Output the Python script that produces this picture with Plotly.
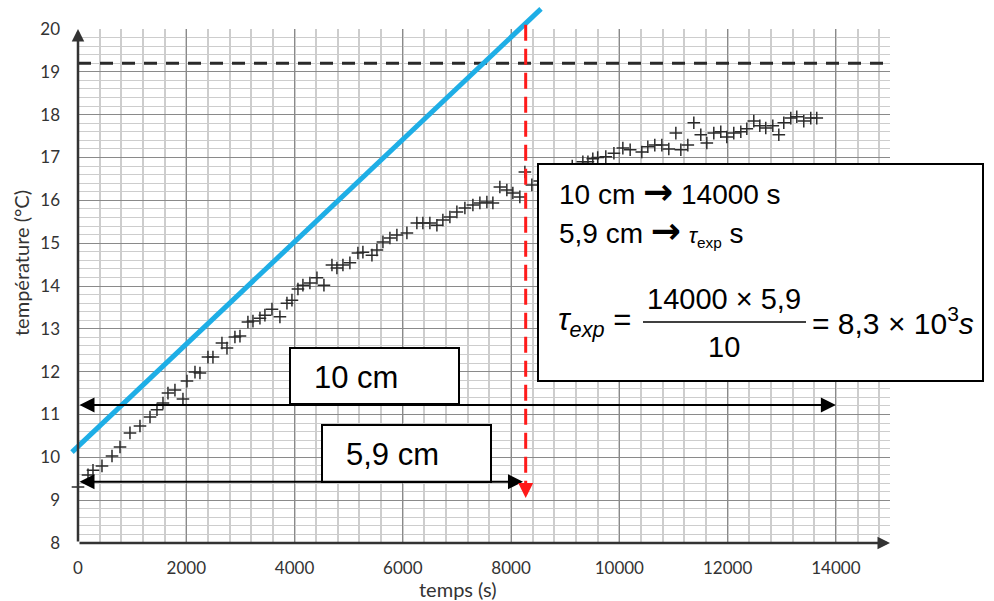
import plotly.graph_objects as go

# ---------------- data ----------------
time_s = [0, 185, 277, 443, 628, 776, 960, 1145, 1330, 1459, 1570, 1662, 1791, 1939, 2013,
          2161, 2253, 2401, 2493, 2659, 2752, 2899, 2992, 3139, 3232, 3361, 3453, 3583, 3730,
          3860, 3952, 4063, 4155, 4284, 4414, 4543, 4691, 4783, 4894, 5023, 5171, 5263, 5430,
          5522, 5633, 5762, 5891, 6076, 6260, 6371, 6500, 6630, 6740, 6870, 6999, 7147, 7295,
          7424, 7553, 7664, 7793, 7922, 8033, 8162, 8255, 8384, 8530, 8680, 8830, 8980, 9130,
          9326, 9420, 9510, 9600, 9750, 9900, 10065, 10200, 10415, 10526, 10655, 10785, 10914,
          11044, 11136, 11265, 11376, 11505, 11616, 11745, 11874, 11985, 12114, 12244, 12355,
          12484, 12595, 12705, 12835, 12946, 13038, 13167, 13278, 13407, 13536, 13647]
temperature = [9.31, 9.59, 9.70, 9.80, 10.03, 10.24, 10.57, 10.73, 10.94, 11.11, 11.27, 11.50,
               11.57, 11.36, 11.78, 11.99, 11.97, 12.34, 12.34, 12.67, 12.55, 12.81, 12.83, 13.16,
               13.18, 13.25, 13.32, 13.46, 13.28, 13.60, 13.67, 13.93, 14.02, 14.07, 14.19, 14.02,
               14.49, 14.42, 14.49, 14.54, 14.77, 14.79, 14.72, 14.84, 15.03, 15.12, 15.19, 15.24,
               15.47, 15.47, 15.47, 15.42, 15.54, 15.61, 15.73, 15.82, 15.89, 15.94, 15.96, 15.94,
               16.31, 16.24, 16.17, 16.08, 16.66, 16.36, 16.45, 16.52, 16.60, 16.68, 16.80, 16.90,
               16.90, 16.97, 17.00, 17.02, 17.10, 17.22, 17.18, 17.13, 17.25, 17.29, 17.29, 17.20,
               17.57, 17.18, 17.29, 17.81, 17.53, 17.34, 17.57, 17.60, 17.48, 17.57, 17.60, 17.67,
               17.85, 17.74, 17.69, 17.74, 17.53, 17.81, 17.92, 17.95, 17.85, 17.92, 17.92]

tangent_t = [-111, 8553]
tangent_T = [10.12, 20.47]

T_final = 19.2          # dashed asymptote
tau_t = 8270            # red dashed line position
tau_T = [20.1, 9.05]    # red dashed line extent
arrow10_y = 11.22       # "10 cm" arrow
arrow10_x = [0, 14000]
arrow59_y = 9.43        # "5,9 cm" arrow
arrow59_x = [0, 8220]

x_ticks = [0, 2000, 4000, 6000, 8000, 10000, 12000, 14000]
x_ticktext = ["0", "2000", "4000", "6000", "8000", "10000", "12000", "14000"]
y_ticks = [8, 9, 10, 11, 12, 13, 14, 15, 16, 17, 18, 19, 20]

# ---------------- layout geometry ----------------
W, H = 994, 601
L_PX, R_PX, T_PX, B_PX = 78, 890, 29, 543
X_RANGE = [0, 15000]
Y_RANGE = [8, 20]


def fx(px):
    return px / W


def fy(py):
    return 1 - py / H


sx = (R_PX - L_PX) / (X_RANGE[1] - X_RANGE[0])
sy = (B_PX - T_PX) / (Y_RANGE[1] - Y_RANGE[0])
x2_range = [X_RANGE[0] - L_PX / sx, X_RANGE[1] + (W - R_PX) / sx]
y2_range = [Y_RANGE[0] - (H - B_PX) / sy, Y_RANGE[1] + T_PX / sy]

AX = "#333333"
fig = go.Figure()

# data points
fig.add_trace(go.Scatter(
    x=time_s, y=temperature, mode="markers", xaxis="x", yaxis="y",
    marker=dict(symbol="cross-thin", size=9, line=dict(width=1.5, color="#2b2b2b")),
    cliponaxis=False, showlegend=False, hoverinfo="skip"))

# dashed asymptote
fig.add_trace(go.Scatter(
    x=X_RANGE, y=[T_final, T_final], mode="lines", xaxis="x", yaxis="y",
    line=dict(color="#2a2a2a", width=3, dash="13px,9px"), showlegend=False, hoverinfo="skip"))

# tangent (blue) on overlay axes so it can extend beyond the grid
fig.add_trace(go.Scatter(
    x=tangent_t, y=tangent_T, mode="lines", xaxis="x2", yaxis="y2",
    line=dict(color="#1eaee6", width=5), showlegend=False, hoverinfo="skip"))

# red dashed vertical
fig.add_trace(go.Scatter(
    x=[tau_t, tau_t], y=[tau_T[0], tau_T[1] + 0.3], mode="lines", xaxis="x2", yaxis="y2",
    line=dict(color="#ff1a1a", width=3, dash="16px,8px"), showlegend=False, hoverinfo="skip"))

shapes = []
annotations = []


def box(x0, y0, x1, y1):
    shapes.append(dict(type="rect", xref="paper", yref="paper", x0=fx(x0), x1=fx(x1),
                       y0=fy(y1), y1=fy(y0), line=dict(color="black", width=2),
                       fillcolor="white", layer="above"))


box(290, 348, 459, 404)
box(322, 425, 491, 482)
box(538, 164, 983, 381)

# fraction bar
shapes.append(dict(type="line", xref="paper", yref="paper", x0=fx(643), x1=fx(806),
                   y0=fy(322), y1=fy(322), line=dict(color="black", width=1.5), layer="above"))


def arrow(x0, y0, x1, y1, color, width, size, both=False, head=2):
    annotations.append(dict(x=x1, y=y1, ax=x0, ay=y0, xref="x2", yref="y2", axref="x2",
                            ayref="y2", text="", showarrow=True, arrowhead=head,
                            startarrowhead=head, arrowside="end+start" if both else "end",
                            arrowwidth=width, arrowsize=size, startarrowsize=size,
                            arrowcolor=color))


arrow(0, Y_RANGE[0], 0, Y_RANGE[1], AX, 2.5, 1.0)
arrow(0, Y_RANGE[0], X_RANGE[1], Y_RANGE[0], AX, 2.5, 1.0)
arrow(arrow10_x[0], arrow10_y, arrow10_x[1], arrow10_y, "black", 2, 1.5, both=True)
arrow(arrow59_x[0], arrow59_y, arrow59_x[1], arrow59_y, "black", 2, 1.5, both=True)
arrow(tau_t, tau_T[1] + 0.35, tau_t, tau_T[1], "#ff1a1a", 3, 1.0)

FONT = "Liberation Sans, Arial, sans-serif"
ARR = "<span style='font-family:DejaVu Sans;font-weight:bold;font-size:36px'>→</span>"


def text(px, py, s, size, xanchor="center", angle=0, color="black", family=FONT):
    annotations.append(dict(x=fx(px), y=fy(py), xref="paper", yref="paper", text=s,
                            showarrow=False, xanchor=xanchor, yanchor="middle",
                            textangle=angle, font=dict(size=size, color=color, family=family)))


text(312, 377, "10 cm", 31, xanchor="left")
text(344, 454, "5,9 cm", 31, xanchor="left")
text(557, 192, "10 cm " + ARR + " 14000 s", 28, xanchor="left")
text(557, 230, "5,9 cm " + ARR + " <span style='font-size:22px'><i>τ</i><sub>exp</sub></span> s", 28,
     xanchor="left")
text(556, 322, "<i>τ</i><sub><i>exp</i></sub> =", 31, xanchor="left")
text(724, 299, "14000 × 5,9", 29)
text(724, 347, "10", 29)
text(810, 321, "= 8,3 × 10<sup>3</sup><i>s</i>", 30, xanchor="left")

# axis titles
text(458, 589, "temps (s)", 20, color="#333333", family="Lato, sans-serif")
text(21, 263, "température (°C)", 20, angle=-90, color="#333333", family="Lato, sans-serif")

TICKFONT = dict(family="Lato, sans-serif", size=17, color="#333333")

fig.update_layout(
    width=W, height=H, margin=dict(l=0, r=0, t=0, b=0),
    paper_bgcolor="white", plot_bgcolor="rgba(0,0,0,0)",
    showlegend=False, shapes=shapes, annotations=annotations,
    xaxis=dict(domain=[fx(L_PX), fx(R_PX)], range=X_RANGE, anchor="y",
               tickmode="array", tickvals=x_ticks, ticktext=x_ticktext, ticks="",
               ticklabelstandoff=13,
               showgrid=True, gridcolor="#8a8a8a", gridwidth=1.4,
               minor=dict(dtick=400, tick0=0, showgrid=True, gridcolor="#cdcdcd", gridwidth=1.6),
               zeroline=False, showline=False, automargin=False, tickfont=TICKFONT),
    yaxis=dict(domain=[fy(B_PX), fy(T_PX)], range=Y_RANGE, anchor="x",
               tickmode="array", tickvals=y_ticks, ticks="", ticklabelstandoff=17,
               showgrid=True, gridcolor="#8a8a8a", gridwidth=1.4,
               minor=dict(dtick=0.2, tick0=8, showgrid=True, gridcolor="#cdcdcd", gridwidth=1.4),
               zeroline=False, showline=False, automargin=False, tickfont=TICKFONT),
    xaxis2=dict(domain=[0, 1], range=x2_range, anchor="y2", visible=False),
    yaxis2=dict(domain=[0, 1], range=y2_range, anchor="x2", visible=False),
)

fig.write_html("out.html", config={"displayModeBar": False},
               post_script="document.body.style.margin='0';document.body.style.padding='0';")
